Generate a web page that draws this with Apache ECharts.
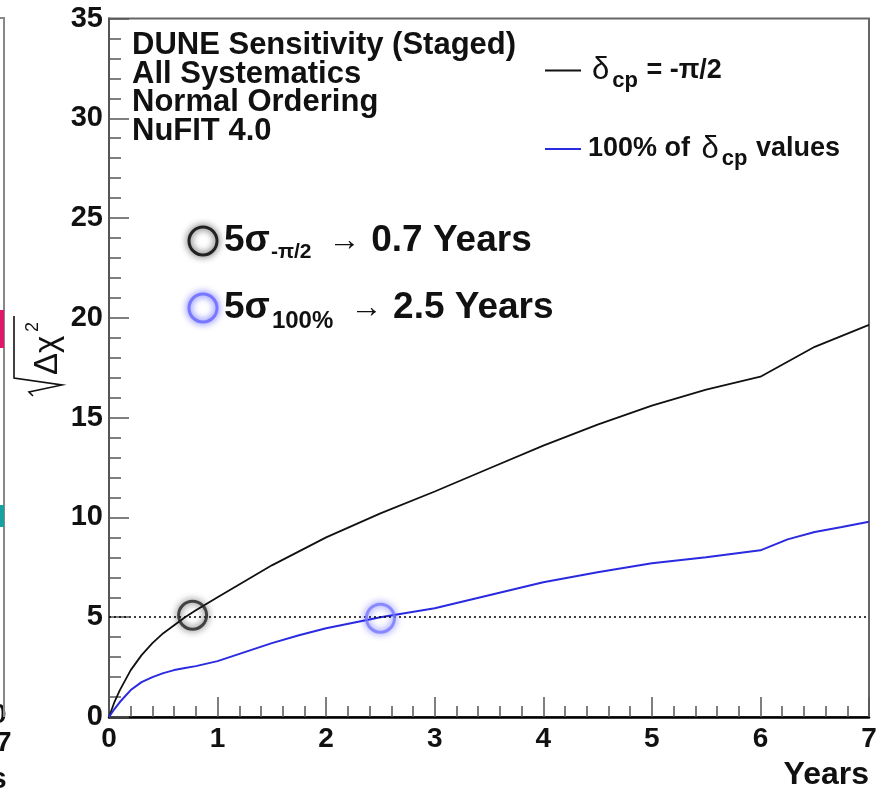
<!DOCTYPE html>
<html><head><meta charset="utf-8">
<script src="https://cdn.jsdelivr.net/npm/echarts@6/dist/echarts.min.js"></script>
<style>html,body{margin:0;padding:0;background:#fff}#c{width:883px;height:791px}</style>
</head><body><div id="c"></div>
<script>
// ---- data ----
const years = [0,0.05,0.1,0.2,0.3,0.4,0.5,0.6,0.7,0.8,1.0,1.25,1.5,1.75,2.0,2.5,3.0,3.5,4.0,4.5,5.0,5.5,6.0,6.25,6.5,6.75,7.0];
const sigmaMinusPiHalf = [0,0.75,1.35,2.35,3.1,3.7,4.2,4.6,5.0,5.35,6.0,6.8,7.6,8.3,9.0,10.2,11.3,12.45,13.6,14.65,15.6,16.4,17.05,17.8,18.55,19.1,19.65];
const sigma100 = [0,0.4,0.75,1.35,1.75,2.0,2.2,2.35,2.45,2.55,2.8,3.25,3.7,4.1,4.45,5.0,5.45,6.1,6.75,7.25,7.7,8.0,8.35,8.9,9.27,9.52,9.78];
const fiveSigmaLevel = 5;
const markerMinusPiHalf = [0.77, 5.1];
const marker100 = [2.5, 4.95];
const xTicks = [0,1,2,3,4,5,6,7];
const yTicks = [0,5,10,15,20,25,30,35];
const seriesNames = ['dpi', 'd100'];

const FONT = '"Liberation Sans", Arial, Helvetica, sans-serif';
const BLUE = '#2a2ae0';

const chart = echarts.init(document.getElementById('c'), null, {renderer: 'canvas'});
const zip = (xs, ys) => xs.map((x, i) => [x, ys[i]]);

const option = {
  animation: false,
  backgroundColor: '#fff',
  grid: {left: 109, top: 18, right: 14, bottom: 74, show: true, borderColor: '#666', borderWidth: 2, backgroundColor: 'transparent'},
  xAxis: {
    type: 'value', min: xTicks[0], max: xTicks[xTicks.length - 1], interval: 1,
    name: 'Years', nameLocation: 'end', nameGap: 0,
    nameTextStyle: {fontFamily: FONT, fontWeight: 'bold', fontSize: 32, color: '#111', align: 'right', verticalAlign: 'top', padding: [42, 0, 0, 0]},
    axisLine: {show: true, lineStyle: {color: '#000', width: 2.5}},
    axisTick: {show: true, inside: true, length: 20, lineStyle: {color: '#555', width: 1.5}},
    minorTick: {show: true, splitNumber: 5, length: 11, lineStyle: {color: '#555', width: 1.5}},
    axisLabel: {fontFamily: FONT, fontWeight: 'bold', fontSize: 28, color: '#111', margin: 8},
    splitLine: {show: false}
  },
  yAxis: {
    type: 'value', min: yTicks[0], max: yTicks[yTicks.length - 1], interval: 5,
    axisLine: {show: true, lineStyle: {color: '#555', width: 2}},
    axisTick: {show: true, inside: true, length: 20, lineStyle: {color: '#555', width: 1.5}},
    minorTick: {show: true, splitNumber: 5, length: 12, lineStyle: {color: '#555', width: 1.5}},
    axisLabel: {fontFamily: FONT, fontWeight: 'bold', fontSize: 29, color: '#111', margin: 6, verticalAlign: 'middle', lineHeight: 29, padding: [8, 0, 0, 0]},
    splitLine: {show: false}
  },
  legend: {
    orient: 'vertical', left: 540, top: 50, itemGap: 42,
    icon: 'rect', itemWidth: 36, itemHeight: 2,
    data: seriesNames,
    formatter: function (name) {
      return name === 'dpi'
        ? '{d|δ}{s|cp}{t| = -π/2}'
        : '{t|100% of }{d|δ}{s|cp}{t| values}';
    },
    textStyle: {
      color: '#111', padding: [0, 0, 0, 2],
      rich: {
        t: {fontFamily: FONT, fontWeight: 'bold', fontSize: 27, color: '#111'},
        d: {fontFamily: FONT, fontSize: 31, color: '#111', padding: [0, 2, 0, 4]},
        s: {fontFamily: FONT, fontWeight: 'bold', fontSize: 22, color: '#111', padding: [20, 1, 0, 1]}
      }
    }
  },
  series: [
    {
      name: 'dpi', type: 'line', data: zip(years, sigmaMinusPiHalf),
      showSymbol: false, smooth: false,
      lineStyle: {color: '#111', width: 1.8}, itemStyle: {color: '#111'},
      markLine: {
        silent: true, symbol: ['none', 'none'], label: {show: false},
        lineStyle: {color: '#000', type: [2, 3], width: 1.6},
        data: [{yAxis: fiveSigmaLevel}]
      },
      z: 3
    },
    {
      name: 'd100', type: 'line', data: zip(years, sigma100),
      showSymbol: false, smooth: false,
      lineStyle: {color: BLUE, width: 2}, itemStyle: {color: BLUE}, z: 3
    },
    {
      name: 'm1', type: 'scatter', data: [markerMinusPiHalf], symbol: 'circle', symbolSize: 28,
      itemStyle: {color: 'rgba(255,255,255,0)', borderColor: '#222', borderWidth: 3, shadowBlur: 7, shadowColor: 'rgba(0,0,0,0.85)'}, z: 5
    },
    {
      name: 'm2', type: 'scatter', data: [marker100], symbol: 'circle', symbolSize: 28,
      itemStyle: {color: 'rgba(255,255,255,0)', borderColor: '#7777ff', borderWidth: 3, shadowBlur: 7, shadowColor: 'rgba(40,40,255,0.9)'}, z: 5
    }
  ],
  graphic: [
    // header text block
    {type: 'text', left: 132, top: 30, z: 10, style: {
      text: 'DUNE Sensitivity (Staged)\nAll Systematics\nNormal Ordering\nNuFIT 4.0',
      font: 'bold 31px ' + FONT, fill: '#111', lineHeight: 28.5
    }},
    // annotation circles
    {type: 'circle', shape: {cx: 203, cy: 241, r: 14}, z: 10,
     style: {fill: 'none', stroke: '#222', lineWidth: 3, shadowBlur: 7, shadowColor: 'rgba(0,0,0,0.85)'}},
    {type: 'circle', shape: {cx: 203, cy: 308, r: 14}, z: 10,
     style: {fill: 'none', stroke: '#7777ff', lineWidth: 3, shadowBlur: 7, shadowColor: 'rgba(40,40,255,0.9)'}},
    {type: 'text', x: 224, y: 241, z: 10, style: {
      text: '{m|5σ}{s|-π/2}{a| → }{m|0.7 Years}', verticalAlign: 'middle',
      rich: {
        m: {font: 'bold 37px ' + FONT, fill: '#111'},
        s: {font: 'bold 21px ' + FONT, fill: '#111', padding: [22, 0, 0, 1]},
        a: {font: '32px ' + FONT, fill: '#111', padding: [0, 2, 0, 8]}
      }
    }},
    {type: 'text', x: 224, y: 308, z: 10, style: {
      text: '{m|5σ}{s|100%}{a| → }{m|2.5 Years}', verticalAlign: 'middle',
      rich: {
        m: {font: 'bold 37px ' + FONT, fill: '#111'},
        s: {font: 'bold 24px ' + FONT, fill: '#111', padding: [26, 0, 0, 2]},
        a: {font: '32px ' + FONT, fill: '#111', padding: [0, 2, 0, 8]}
      }
    }},
    // y axis title  sqrt(Δχ²), rotated
    {type: 'group', x: 45, y: 358, rotation: Math.PI / 2, z: 10, children: [
      {type: 'text', x: -17, y: 19, style: {text: 'Δχ', font: '33px ' + FONT, fill: '#111', verticalAlign: 'bottom'}},
      {type: 'text', x: 26, y: -21, style: {text: '2', font: '18px ' + FONT, fill: '#111', verticalAlign: 'top'}},
      {type: 'polyline', shape: {points: [[-38, -12], [-34, -16], [-27, 17], [-20, -31], [42, -31]]},
       style: {stroke: '#111', lineWidth: 1.6, fill: 'none'}}
    ]},
    // remnants of the neighbouring panel at the left edge
    {type: 'polyline', shape: {points: [[0, 18], [4, 18], [4, 717]]}, style: {stroke: '#888', lineWidth: 2, fill: 'none'}, z: 1},
    {type: 'rect', shape: {x: 0, y: 310, width: 4, height: 38}, style: {fill: '#e0186a'}, z: 2},
    {type: 'rect', shape: {x: 0, y: 505, width: 4, height: 22}, style: {fill: '#17a2a2'}, z: 2},
    {type: 'text', x: -9, y: 701, style: {text: '0', font: 'bold 28px ' + FONT, fill: '#111'}},
    {type: 'text', x: -4, y: 729, style: {text: '7', font: 'bold 28px ' + FONT, fill: '#111'}},
    {type: 'text', x: -10, y: 765, style: {text: 's', font: 'bold 30px ' + FONT, fill: '#111'}}
  ]
};
chart.setOption(option);
</script>
</body></html>
